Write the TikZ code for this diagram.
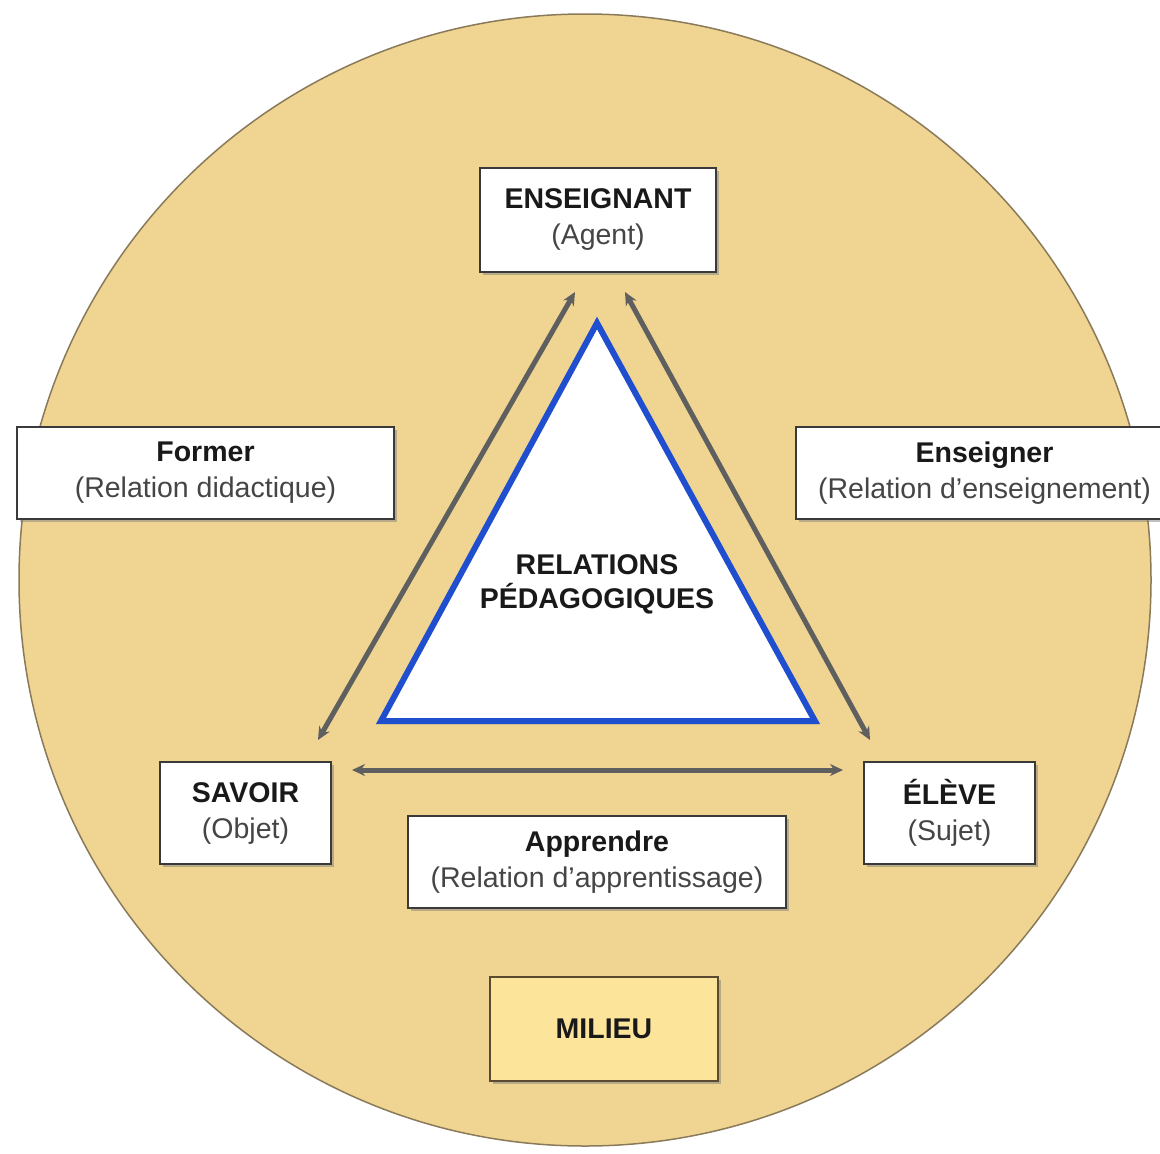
\documentclass[tikz,border=0pt]{standalone}
\usepackage{fontspec}
\setmainfont{Liberation Sans}
\usetikzlibrary{shadows,arrows.meta}
\definecolor{circfill}{HTML}{F0D592}
\definecolor{circline}{HTML}{8A7A5A}
\definecolor{boxline}{HTML}{3A3A3A}
\definecolor{txtgrey}{HTML}{454545}
\definecolor{arrgrey}{HTML}{5F5F5F}
\definecolor{triblue}{HTML}{1F4FCF}
\definecolor{milfill}{HTML}{FCE49A}
\definecolor{milline}{HTML}{5A4A30}
\begin{document}
\begin{tikzpicture}[x=1pt,y=-1pt,
  lbl/.style={font=\fontsize{28.5}{36}\selectfont, align=center, text=black!90},
  box/.style={lbl, draw=boxline, line width=1.5pt, fill=white, inner sep=0pt,
    drop shadow={opacity=0.5, shadow xshift=3pt, shadow yshift=-3pt}},
  rel/.style={arrgrey, line width=5pt, {Stealth[length=13pt,width=12pt]}-{Stealth[length=13pt,width=12pt]}}
]
\useasboundingbox (0,0) rectangle (1160,1154);
\fill[white] (0,0) rectangle (1160,1154);
\draw[fill=circfill, draw=circline, line width=1.5pt] (585,580) circle[radius=566];

% main boxes
\node[box, minimum width=236pt, minimum height=104pt] (ens) at (598,220)
  {\textbf{ENSEIGNANT}\\{\color{txtgrey}(Agent)}};
\node[box, minimum width=171pt, minimum height=102pt] (sav) at (245.5,813)
  {\textbf{SAVOIR}\\{\color{txtgrey}(Objet)}};
\node[box, minimum width=171pt, minimum height=102pt] (ele) at (949.5,813)
  {\textbf{ÉLÈVE}\\{\color{txtgrey}(Sujet)}};

% relation boxes
\node[box, minimum width=377pt, minimum height=92pt] (for) at (205.5,473)
  {\textbf{Former}\\{\color{txtgrey}(Relation didactique)}};
\node[box, minimum width=377pt, minimum height=92pt] (enr) at (984.5,473)
  {\textbf{Enseigner}\\{\color{txtgrey}(Relation d’enseignement)}};
\node[box, minimum width=378pt, minimum height=92pt] (app) at (597,862)
  {\textbf{Apprendre}\\{\color{txtgrey}(Relation d’apprentissage)}};

% milieu
\node[lbl, draw=milline, line width=2pt, fill=milfill, inner sep=0pt,
  minimum width=228pt, minimum height=104pt,
  drop shadow={opacity=0.5, shadow xshift=3pt, shadow yshift=-3pt}] (mil) at (604,1029)
  {\textbf{MILIEU}};

% triangle
\coordinate (t1) at (597,323);
\coordinate (t2) at (381,721);
\coordinate (t3) at (815,721);
\fill[black, opacity=0.25] ([shift={(3,3)}]t1) -- ([shift={(3,3)}]t2) -- ([shift={(3,3)}]t3) -- cycle;
\draw[triblue, line width=6pt, fill=white, line join=miter] (t1) -- (t2) -- (t3) -- cycle;
\node[lbl, font=\fontsize{28.5}{34}\selectfont\bfseries] (rp) at (597,584)
  {RELATIONS\\PÉDAGOGIQUES};

% arrows
\coordinate (a1) at (575,292);
\coordinate (a2) at (318,740);
\coordinate (b1) at (625,292);
\coordinate (b2) at (870,740);
\coordinate (c1) at (352,770);
\coordinate (c2) at (843,770);
\draw[rel] (a1) -- (a2);
\draw[rel] (b1) -- (b2);
\draw[rel] (c1) -- (c2);
\end{tikzpicture}
\end{document}
